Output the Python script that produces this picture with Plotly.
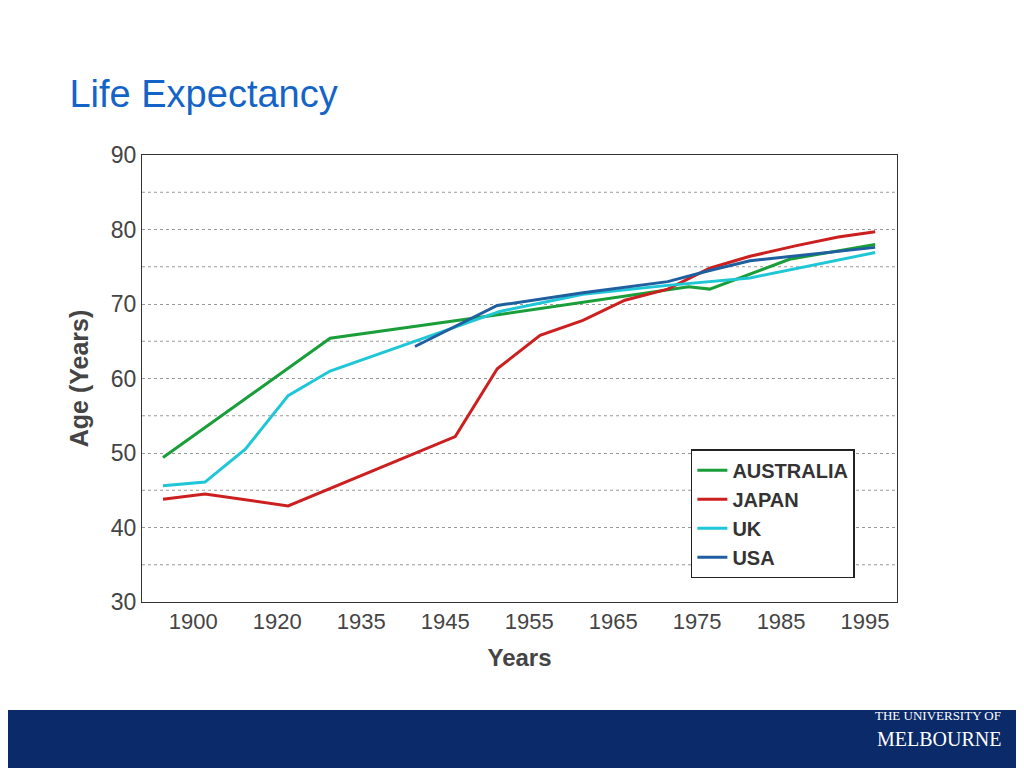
import plotly.graph_objects as go

tick_labels = ["1900","1920","1935","1945","1955","1965","1975","1985","1995"]
# x in tick-slot units (0 = "1900" label, 8 = "1995" label)
aus_x = [-0.36, 1.63, 3.65, 5.9, 6.15, 7.1, 8.12]
aus_y = [49.4, 65.4, 68.6, 72.3, 72.0, 76.0, 78.0]
jpn_x = [-0.36, 0.14, 1.13, 2.17, 3.12, 3.62, 4.13, 4.64, 5.14, 5.65, 6.15, 6.63, 7.17, 7.68, 8.12]
jpn_y = [43.8, 44.5, 42.9, 47.8, 52.2, 61.3, 65.8, 67.8, 70.5, 72.0, 74.8, 76.4, 77.8, 79.0, 79.7]
uk_x = [-0.36, 0.14, 0.62, 1.13, 1.63, 2.64, 3.65, 4.64, 5.65, 6.63, 8.12]
uk_y = [45.6, 46.1, 50.5, 57.7, 61.0, 65.0, 69.0, 71.3, 72.5, 73.5, 76.9]
usa_x = [2.64, 3.62, 4.64, 5.65, 6.15, 6.63, 8.12]
usa_y = [64.3, 69.8, 71.5, 73.0, 74.5, 75.8, 77.6]

fig = go.Figure()
for name, xs, ys, c in [("<b>AUSTRALIA</b>", aus_x, aus_y, "#1a9e3a"), ("<b>JAPAN</b>", jpn_x, jpn_y, "#cc1f1f"),
                        ("<b>UK</b>", uk_x, uk_y, "#1fc6d6"), ("<b>USA</b>", usa_x, usa_y, "#1f5fa0")]:
    fig.add_trace(go.Scatter(x=xs, y=ys, mode="lines", name=name, line=dict(color=c, width=3)))

fig.update_layout(
    width=1024, height=768, paper_bgcolor="white", plot_bgcolor="white",
    margin=dict(l=134, r=135, t=147, b=174),
    font=dict(family="Liberation Sans, Arial", color="#444"),
    title=dict(text="Life Expectancy", x=0.06, xanchor="left", y=0.888, yanchor="middle",
               font=dict(size=38, color="#1464c8")),
    legend=dict(x=0.727, y=0.342, xanchor="left", yanchor="top", bordercolor="#222", borderwidth=1.5,
                bgcolor="white", font=dict(size=20, color="#333", family="Liberation Sans, Arial"),
                tracegroupgap=6),
    xaxis=dict(range=[-0.61, 8.38], tickvals=list(range(9)), ticktext=tick_labels, showgrid=False,
               showline=True, linecolor="#333", mirror=True, ticks="", tickfont=dict(size=22),
               title=dict(text="<b>Years</b>", font=dict(size=24)), zeroline=False),
    yaxis=dict(range=[30, 90], dtick=10, showline=True, linecolor="#333", mirror=True, ticks="",
               tickfont=dict(size=23), title=dict(text="<b>Age (Years)</b>", font=dict(size=25)),
               gridcolor="#999", griddash="dot", zeroline=False),
    shapes=[dict(type="rect", xref="paper", yref="paper", x0=-0.25, x1=1.25, y0=-0.2416, y1=-0.4,
                 fillcolor="#0a2a6a", line=dict(width=0))],
    annotations=[dict(text="THE UNIVERSITY OF", xref="paper", yref="paper", x=1.14, y=-0.275,
                      showarrow=False, xanchor="right", font=dict(size=13, color="white", family="Liberation Serif")),
                 dict(text="MELBOURNE", xref="paper", yref="paper", x=1.14, y=-0.335,
                      showarrow=False, xanchor="right", font=dict(size=20, color="white", family="Liberation Serif"))],
)
for v in [35, 45, 55, 65, 75, 85]:
    fig.add_hline(y=v, line=dict(color="#999", width=1, dash="dot"), layer="below")
fig.write_html("out.html")
